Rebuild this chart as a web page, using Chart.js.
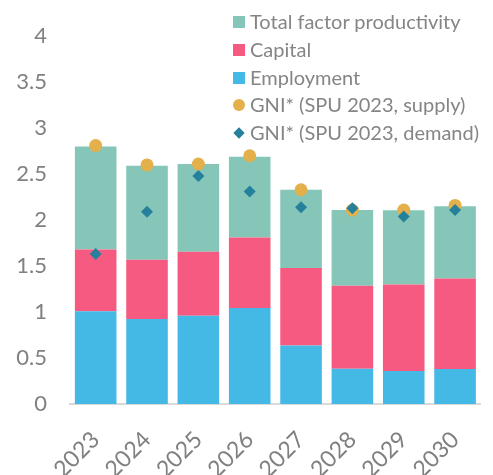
<!DOCTYPE html>
<html>
<head>
<meta charset="utf-8">
<script src="https://cdn.jsdelivr.net/npm/chart.js@4"></script>
<style>
  html, body { margin: 0; padding: 0; background: #fff; overflow: hidden; }
  #wrap { position: relative; width: 497px; height: 475px; }
  #legend { position: absolute; left: 233px; top: 8px; font-family: Lato, sans-serif; font-size: 20px; color: #858585; }
  #legend .row { height: 27.8px; line-height: 27.8px; white-space: nowrap; position: relative; padding-left: 17px; }
  #legend .mk { position: absolute; left: 0; top: 8px; width: 12px; height: 12px; }
</style>
</head>
<body>
<div id="wrap">
  <canvas id="myChart" width="497" height="475"></canvas>
  <div id="legend"></div>
</div>
<script>
var years = ['2023', '2024', '2025', '2026', '2027', '2028', '2029', '2030'];
var employment = [1.01, 0.925, 0.96, 1.045, 0.636, 0.383, 0.358, 0.38];
var capital = [0.67, 0.645, 0.695, 0.765, 0.844, 0.904, 0.942, 0.986];
var tfp = [1.12, 1.02, 0.955, 0.88, 0.85, 0.823, 0.806, 0.784];
var gniSupply = [2.81, 2.60, 2.61, 2.70, 2.33, 2.11, 2.11, 2.16];
var gniDemand = [1.63, 2.09, 2.48, 2.31, 2.14, 2.13, 2.04, 2.11];
var yTicks = [0, 0.5, 1, 1.5, 2, 2.5, 3, 3.5, 4];

const data = {
    labels: years,
    datasets: [
        {
            label: 'Employment',
            data: employment,
            backgroundColor: '#45B9E6',
            order: 3
        },
        {
            label: 'Capital',
            data: capital,
            backgroundColor: '#F75A80',
            order: 3
        },
        {
            label: 'Total factor productivity',
            data: tfp,
            backgroundColor: '#85C6B8',
            order: 3
        },
        {
            type: 'line',
            label: 'GNI* (SPU 2023, supply)',
            data: gniSupply,
            showLine: false,
            pointStyle: 'circle',
            pointRadius: 6.5,
            pointBackgroundColor: '#E3B04B',
            pointBorderWidth: 0,
            stack: 'gniS',
            order: 2
        },
        {
            type: 'line',
            label: 'GNI* (SPU 2023, demand)',
            data: gniDemand,
            showLine: false,
            pointStyle: 'rectRot',
            pointRadius: 6,
            pointBackgroundColor: '#25809C',
            pointBorderWidth: 0,
            stack: 'gniD',
            order: 1
        }
    ]
};

const config = {
    type: 'bar',
    data,
    options: {
        responsive: false,
        animation: false,
        layout: { padding: { top: 35, right: 1, left: 0, bottom: 0 } },
        plugins: { legend: { display: false }, tooltip: { enabled: false } },
        datasets: { bar: { barPercentage: 0.81, categoryPercentage: 1 } },
        scales: {
            x: {
                stacked: true,
                grid: { display: false, drawTicks: false },
                border: { display: true, color: '#d9d9d9', width: 2 },
                ticks: {
                    minRotation: 45, maxRotation: 45, padding: 22,
                    color: '#808080', font: { family: 'Lato', size: 23 }
                },
                afterFit: function (s) { s.height = 71; }
            },
            y: {
                stacked: true,
                min: 0, max: 4,
                grid: { display: false, drawTicks: false },
                border: { display: false },
                afterBuildTicks: function (s) { s.ticks = yTicks.map(function (v) { return { value: v }; }); },
                ticks: {
                    padding: 23,
                    color: '#808080', font: { family: 'Lato', size: 22 },
                    callback: function (v) { return String(v); }
                },
                afterFit: function (s) { s.width = 70; }
            }
        }
    }
};

const myChart = new Chart(document.getElementById('myChart'), config);

// legend in the picture's order
var legendOrder = [2, 1, 0, 3, 4];
var leg = document.getElementById('legend');
legendOrder.forEach(function (i) {
    var ds = data.datasets[i];
    var row = document.createElement('div');
    row.className = 'row';
    var mk = document.createElement('span');
    mk.className = 'mk';
    if (ds.type === 'line' && ds.pointStyle === 'circle') {
        mk.style.background = ds.pointBackgroundColor;
        mk.style.borderRadius = '50%';
    } else if (ds.type === 'line') {
        mk.style.background = ds.pointBackgroundColor;
        mk.style.width = '8px'; mk.style.height = '8px';
        mk.style.left = '2px'; mk.style.top = '10px';
        mk.style.transform = 'rotate(45deg)';
    } else {
        mk.style.background = ds.backgroundColor;
    }
    row.appendChild(mk);
    row.appendChild(document.createTextNode(ds.label));
    leg.appendChild(row);
});
</script>
</body>
</html>
